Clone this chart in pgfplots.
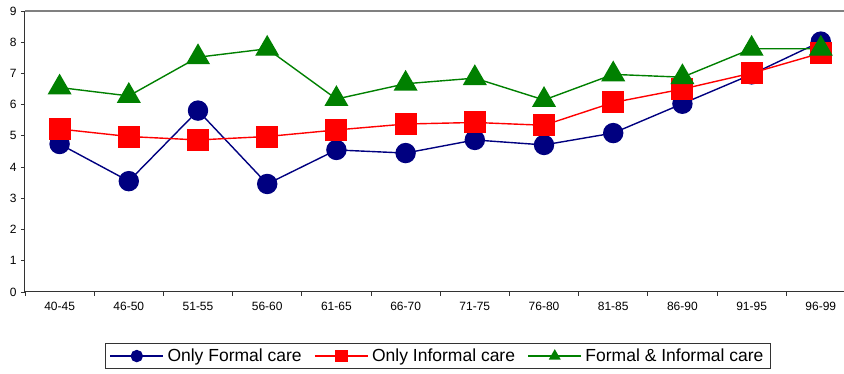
\documentclass[border=0pt]{standalone}
\usepackage{fontspec}
\setmainfont{Liberation Sans}
\usepackage{pgfplots}
\pgfplotsset{compat=1.18}
\definecolor{formal}{RGB}{0,0,128}
\definecolor{informal}{RGB}{255,0,0}
\definecolor{both}{RGB}{0,128,0}

\begin{document}
\begin{tikzpicture}[x=1pt,y=1pt]
\useasboundingbox (0,0) rectangle (844,374);
\begin{axis}[
  at={(25pt,82pt)}, anchor=south west,
  scale only axis, width=819pt, height=281pt,
  xmin=-0.5, xmax=11.335, ymin=0, ymax=9,
  clip=false,
  axis x line*=bottom, axis y line*=left,
  axis line style={draw=black!80, line width=1pt, -},
  tick align=outside,
  major tick length=4pt, minor tick length=4pt,
  tick style={black!80, line width=0.8pt},
  xtick={0,...,11},
  xticklabels={40-45,46-50,51-55,56-60,61-65,66-70,71-75,76-80,81-85,86-90,91-95,96-99},
  major x tick style={draw=none},
  minor xtick={-0.5,0.5,1.5,2.5,3.5,4.5,5.5,6.5,7.5,8.5,9.5,10.5},
  ytick={0,...,9},
  /pgf/number format/assume math mode=true,
  ticklabel style={font=\fontsize{12}{14}\selectfont},
  xticklabel style={yshift=-3pt},
  yticklabel style={xshift=-1pt},
  legend columns=3,
  legend style={at={(0.504,-0.228)}, anchor=center, draw=black!80, line width=0.8pt,
    font=\fontsize{17.5}{19}\selectfont, inner xsep=4pt, inner ysep=3pt,
    nodes={inner sep=2.5pt},
    /tikz/every odd column/.append style={column sep=1pt},
    /tikz/every even column/.append style={column sep=10pt}},
  legend image code/.code={%
    \draw[mark repeat=2,mark phase=2,mark size=5.5pt,line width=1.4pt]
      plot coordinates {(0pt,0pt) (26.5pt,0pt) (53pt,0pt)};},
]
\draw[gray, line width=1.2pt] (rel axis cs:0,1) -- (rel axis cs:1,1);

\addplot[formal, line width=1.4pt, mark=*, mark size=9.5pt, mark options={solid}]
  coordinates {(0,4.74) (1,3.55) (2,5.81) (3,3.46) (4,4.55) (5,4.45) (6,4.87) (7,4.71) (8,5.09) (9,6.03) (10,6.97) (11,8.02)};
\addlegendentry{Only Formal care}

\addplot[informal, line width=1.4pt, mark=square*, mark size=10.3pt, mark options={solid}]
  coordinates {(0,5.22) (1,4.98) (2,4.87) (3,4.98) (4,5.19) (5,5.38) (6,5.43) (7,5.34) (8,6.07) (9,6.50) (10,7.01) (11,7.65)};
\addlegendentry{Only Informal care}

\addplot[both, line width=1.4pt, mark=triangle*, mark size=12.5pt, mark options={solid}]
  coordinates {(0,6.55) (1,6.28) (2,7.52) (3,7.79) (4,6.18) (5,6.67) (6,6.85) (7,6.15) (8,6.97) (9,6.88) (10,7.79) (11,7.79)};
\addlegendentry{Formal \& Informal care}
\end{axis}
\end{tikzpicture}
\end{document}
